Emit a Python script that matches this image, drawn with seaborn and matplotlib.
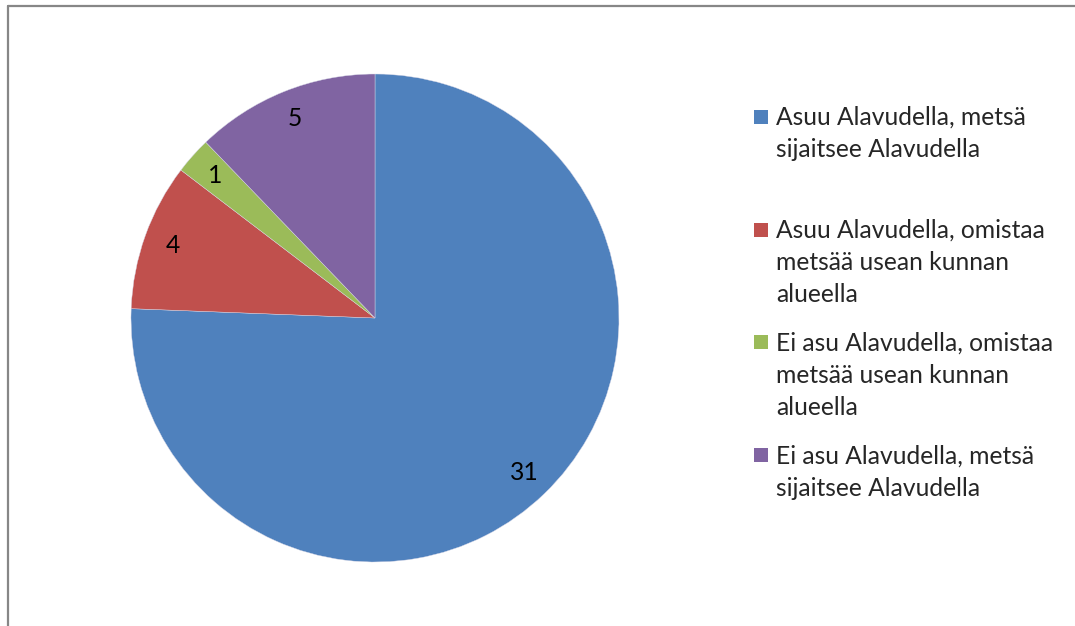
"""Pie chart: forest owners by place of residence (Alavus)."""

from __future__ import annotations

import matplotlib

matplotlib.use("Agg")

import matplotlib.pyplot as plt
import seaborn as sns
from matplotlib.lines import Line2D
from matplotlib.patches import Rectangle


CATEGORIES = [
    "Asuu Alavudella, metsä\nsijaitsee Alavudella",
    "Asuu Alavudella, omistaa\nmetsää usean kunnan\nalueella",
    "Ei asu Alavudella, omistaa\nmetsää usean kunnan\nalueella",
    "Ei asu Alavudella, metsä\nsijaitsee Alavudella",
]
COUNTS = [31, 4, 1, 5]
COLORS = ["#4F81BD", "#C0504D", "#9BBB59", "#8064A2"]

FONT_SIZE = 17.7
W, H = 1075, 626


def draw_pie(fig) -> None:
    # pie centre ~ (375, 318) px, radius ~ 244 px
    cx, cy, r = 375, 318, 244
    ax = fig.add_axes([(cx - r) / W, 1 - (cy + r) / H, 2 * r / W, 2 * r / H])
    total = sum(COUNTS)
    ax.pie(
        COUNTS,
        colors=COLORS,
        startangle=90,
        counterclock=False,
        radius=1,
        autopct=lambda p: f"{round(p * total / 100)}",
        pctdistance=0.88,
        wedgeprops={"edgecolor": "#d8d8e8", "linewidth": 0.3},
        textprops={"fontsize": FONT_SIZE, "color": "black"},
    )
    ax.set_xlim(-1, 1)
    ax.set_ylim(-1, 1)
    ax.set_aspect("equal")
    ax.axis("off")


def draw_legend(fig) -> None:
    # Excel-style legend: equal slot per entry, square on the first line
    slot, line_step = 112.7, 32.4
    first_baseline, marker_top, box = 125, 110, 14
    for i, (label, color) in enumerate(zip(CATEGORIES, COLORS)):
        top = marker_top + slot * i
        fig.add_artist(
            Rectangle(
                (754 / W, 1 - (top + box) / H),
                box / W,
                box / H,
                transform=fig.transFigure,
                facecolor=color,
                edgecolor="none",
            )
        )
        for j, line in enumerate(label.split("\n")):
            y = first_baseline + slot * i + line_step * j
            fig.text(776 / W, 1 - y / H, line, fontsize=FONT_SIZE, va="baseline", ha="left")


def main() -> None:
    sns.set_theme(style="white")
    plt.rcParams["font.family"] = ["Lato", "DejaVu Sans"]

    fig = plt.figure(figsize=(10.75, 6.26), dpi=100)
    draw_pie(fig)
    draw_legend(fig)

    # partial chart border (top and left edges visible)
    border = "#878787"
    fig.add_artist(Line2D([8 / W, 1], [1 - 6 / H, 1 - 6 / H], color=border, lw=1.6))
    fig.add_artist(Line2D([8 / W, 8 / W], [0, 1 - 6 / H], color=border, lw=1.6))

    fig.savefig("out.png", dpi=100, facecolor="white")
    plt.close(fig)


if __name__ == "__main__":
    main()
